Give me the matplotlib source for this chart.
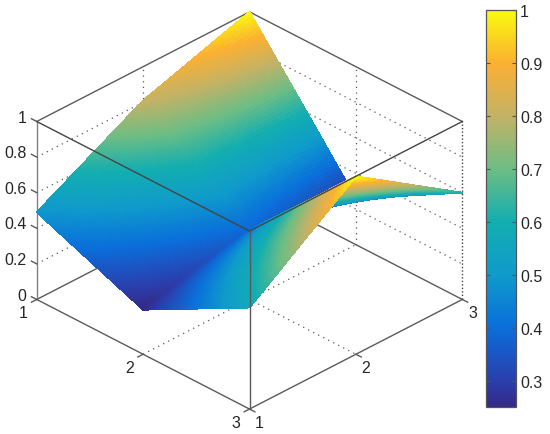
import numpy as np
import matplotlib
matplotlib.use('Agg')
import matplotlib.pyplot as plt
from matplotlib.colors import LinearSegmentedColormap, Normalize
from matplotlib.cm import ScalarMappable
from mpl_toolkits.mplot3d import proj3d

plt.rcParams['font.family'] = ['Liberation Sans', 'DejaVu Sans']

# data
x_vals = [1, 2, 3]
y_vals = [1, 2, 3]
z_row1 = [0.49, 0.81, 1.00]
z_row2 = [0.25, 0.39, 0.26]
z_row3 = [0.57, 1.00, 0.60]
z_ticks = [0, 0.2, 0.4, 0.6, 0.8, 1]
z_tick_labels = ['0', '0.2', '0.4', '0.6', '0.8', '1']
cbar_ticks = [0.3, 0.4, 0.5, 0.6, 0.7, 0.8, 0.9, 1]
cbar_labels = ['0.3', '0.4', '0.5', '0.6', '0.7', '0.8', '0.9', '1']

# parula like colormap, tuned by eye against the reference colorbar
parula = LinearSegmentedColormap.from_list('parula', [
    (0, '#352a87'), (0.067, '#2a3fae'), (0.2, '#0a6fdb'), (0.333, '#0f9bcb'),
    (0.467, '#13aeb0'), (0.6, '#6dbd84'), (0.733, '#c2b266'), (0.867, '#fbb032'),
    (1, '#f9fb0e')])
norm = Normalize(0.25, 1)

W, H = 550, 435
S = 520
fig = plt.figure(figsize=(W / 100, H / 100), dpi=100)
ax = fig.add_axes([(242.5 - S / 2) / W, (H - 218.5 - S / 2) / H, S / W, S / H],
                  projection='3d', computed_zorder=False)
ax.set_proj_type('ortho')
ax.view_init(elev=31, azim=-45)
ax.set_box_aspect((1, 1, 0.69), zoom=0.884)
ax.set_axis_off()
ax.patch.set_alpha(0)
ax.set_xlim(1, 3, view_margin=0)
ax.set_ylim(1, 3, view_margin=0)
ax.set_zlim(0, 1, view_margin=0)

# shading only: fine mesh for interp look (surf shading interp)
Z = np.array([z_row1, z_row2, z_row3])
n = 50
fine = np.linspace(1, 3, 2 * n + 1)
zz = np.array([[np.interp(b, y_vals, [np.interp(a, x_vals, Z[:, j]) for j in range(3)])
                for b in fine] for a in fine])
XX, YY = np.meshgrid(fine, fine, indexing='ij')
surf = ax.plot_surface(XX, YY, zz, rstride=1, cstride=1, cmap=parula, norm=norm,
                       linewidth=0.5, antialiased=False, shade=False, zorder=2)
surf.set_edgecolor('face')

solid = dict(color='#5a5a5a', lw=1.0)
dots = dict(color='#555555', lw=0.9, linestyle=(0, (1, 3.5)))


def seg(p, q, zorder, **kw):
    ax.plot([p[0], q[0]], [p[1], q[1]], [p[2], q[2]], zorder=zorder, **kw)


def label(x, y, z, s, **kw):
    # project by hand, 2d text stays where it is put
    px, py, _ = proj3d.proj_transform(x, y, z, ax.get_proj())
    opts = dict(fontsize=11.5, color='#262626', ha='center', va='center', zorder=4)
    opts.update(kw)
    ax.text2D(px, py, s, transform=ax.transData, **opts)


# back grid
for z in z_ticks[1:-1]:
    seg((1, 1, z), (1, 3, z), 1, **dots)
    seg((1, 3, z), (3, 3, z), 1, **dots)
seg((1, 2, 0), (1, 2, 1), 1, **dots)
seg((2, 3, 0), (2, 3, 1), 1, **dots)
seg((1, 3, 0), (1, 3, 1), 1, **dots)
seg((3, 3, 0), (3, 3, 1), 1, color='#444444', lw=1.0, linestyle=(0, (1, 1.5)))
seg((2, 1, 0), (2, 3, 0), 1, **dots)
seg((1, 2, 0), (3, 2, 0), 1, **dots)

# back edges
seg((1, 1, 1), (1, 3, 1), 1, **solid)
seg((1, 3, 1), (3, 3, 1), 1, **solid)
seg((1, 1, 0), (1, 3, 0), 1, **solid)
seg((1, 3, 0), (3, 3, 0), 1, **solid)
seg((1, 1, 0), (1, 1, 1), 1, color='#808080', lw=1.0)

# front edges
seg((1, 1, 1), (3, 1, 1), 3, color='#444444', lw=1.0)
seg((3, 1, 1), (3, 3, 1), 3, color='#444444', lw=1.0)
seg((3, 1, 0), (3, 1, 1), 3, **solid)
seg((1, 1, 0), (3, 1, 0), 3, **solid)
seg((3, 1, 0), (3, 3, 0), 3, **solid)

# ticks and labels
for z, t in zip(z_ticks, z_tick_labels):
    seg((1, 1, z), (0.95, 1, z), 3, **solid)
    label(0.953, 0.953, z + 0.025, t, ha='right')
for v in x_vals:
    seg((v, 1, 0), (v, 0.95, 0), 3, **solid)
    label(v, 0.87, -0.035, str(v))
    seg((3, v, 0), (3.05, v, 0), 3, **solid)
    label(3.095, v, -0.045, str(v))

# colorbar
cax = fig.add_axes([486 / W, (H - 408) / H, 30 / W, 397 / H])
cb = fig.colorbar(ScalarMappable(norm=norm, cmap=parula), cax=cax, ticks=cbar_ticks)
cb.ax.set_yticklabels(cbar_labels)
cb.ax.tick_params(direction='in', left=True, right=True, length=3, width=0.8,
                  color='#555555', labelsize=11.5, labelcolor='#262626', pad=3)
cb.outline.set_edgecolor('#555555')
cb.outline.set_linewidth(0.9)

fig.savefig('out.png', dpi=100)
